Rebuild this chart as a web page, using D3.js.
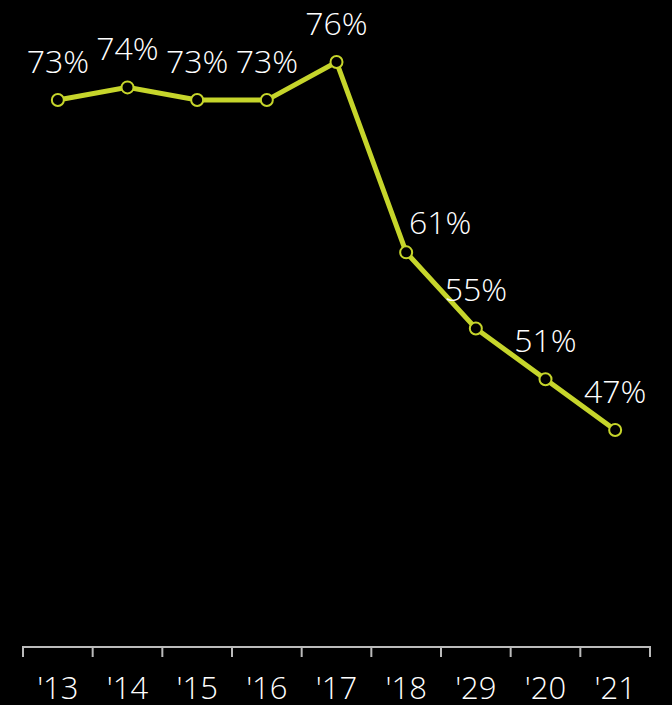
<!DOCTYPE html>
<html>
<head>
<meta charset="utf-8">
<script src="https://d3js.org/d3.v7.min.js"></script>
<style>
  html, body { margin: 0; padding: 0; background: #000; }
  svg { display: block; }
  text { font-family: "Open Sans", sans-serif; font-weight: 300; fill: #fff; }
</style>
</head>
<body>
<svg id="vis"></svg>
<script>
  var years = ["'13", "'14", "'15", "'16", "'17", "'18", "'29", "'20", "'21"];
  var values = [73, 74, 73, 73, 76, 61, 55, 51, 47];

  var width = 672;
  var height = 705;

  var svg = d3.select('#vis')
      .attr('width', width)
      .attr('height', height);

  var xscale = d3.scaleBand()
      .domain(years)
      .range([23, 650]);

  var yscale = d3.scaleLinear()
      .domain([47, 76])
      .range([430, 62]);

  var data = years.map(function(y, i) { return {year: y, value: values[i]}; });

  // Axis
  var axis = svg.append('g')
      .attr('transform', 'translate(0,647)')
      .call(d3.axisBottom(xscale).tickSize(0).tickPadding(30));
  axis.select('.domain')
      .attr('stroke', '#bbb')
      .attr('stroke-width', 2)
      .attr('d', 'M23,10V0H650V10');
  axis.selectAll('.tick text')
      .attr('font-size', 31)
      .attr('font-family', '"Open Sans", sans-serif')
      .attr('font-weight', 300)
      .attr('fill', '#fff');
  // band boundary ticks
  axis.selectAll('line.bound')
      .data(d3.range(years.length + 1))
      .enter().append('line')
      .attr('class', 'bound')
      .attr('x1', function(i) { return 23 + i * xscale.step(); })
      .attr('x2', function(i) { return 23 + i * xscale.step(); })
      .attr('y1', 0)
      .attr('y2', 10)
      .attr('stroke', '#bbb')
      .attr('stroke-width', 2);

  var cx = function(d) { return xscale(d.year) + xscale.bandwidth() / 2; };

  // Line
  svg.append('path')
      .datum(data)
      .attr('fill', 'none')
      .attr('stroke', '#c6d52b')
      .attr('stroke-width', 5)
      .attr('d', d3.line()
          .x(cx)
          .y(function(d) { return yscale(d.value); }));

  // Points
  svg.selectAll('circle')
      .data(data)
      .enter().append('circle')
      .attr('cx', cx)
      .attr('cy', function(d) { return yscale(d.value); })
      .attr('r', 6)
      .attr('fill', '#000')
      .attr('stroke', '#c6d52b')
      .attr('stroke-width', 2);

  // Labels
  svg.selectAll('text.lbl')
      .data(data)
      .enter().append('text')
      .attr('class', 'lbl')
      .attr('text-anchor', 'middle')
      .attr('font-size', 32)
      .attr('x', function(d) { return d.year == "'18" ? cx(d) + 34 : cx(d); })
      .attr('y', function(d) { return yscale(d.value) - (d.year == "'18" ? 18 : 27); })
      .text(function(d) { return d.value + '%'; });
</script>
</body>
</html>
